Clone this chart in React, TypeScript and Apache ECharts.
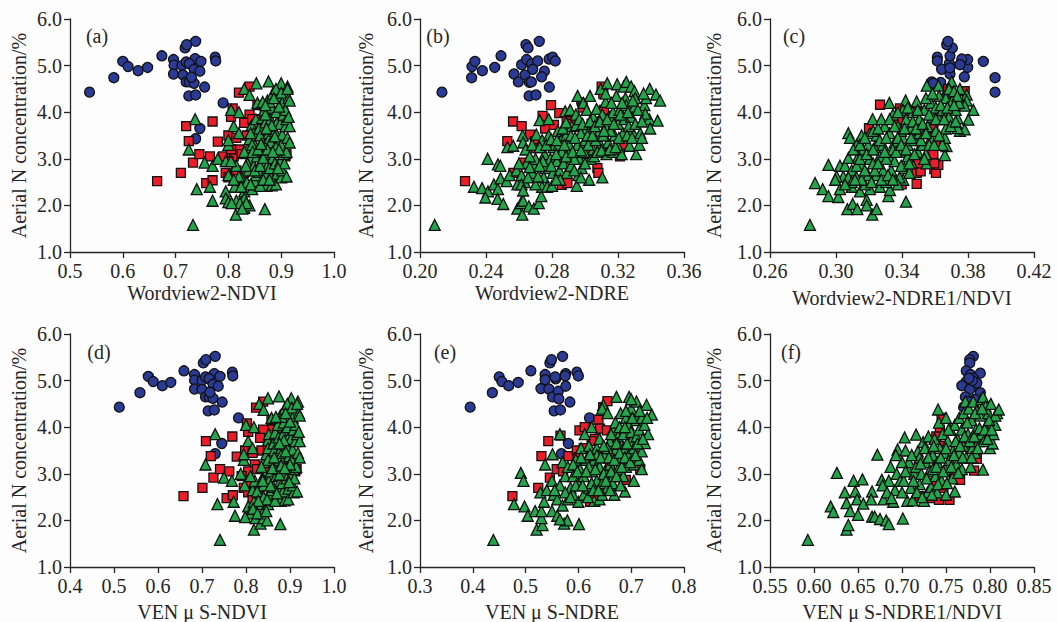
import React, { useEffect, useRef } from "react";
import * as echarts from "echarts";

const yTicks = [1, 2, 3, 4, 5, 6];
const xTicksA = [0.5, 0.6, 0.7, 0.8, 0.9, 1.0];
const xTicksB = [0.2, 0.24, 0.28, 0.32, 0.36];
const xTicksC = [0.26, 0.3, 0.34, 0.38, 0.42];
const xTicksD = [0.4, 0.5, 0.6, 0.7, 0.8, 0.9, 1.0];
const xTicksE = [0.3, 0.4, 0.5, 0.6, 0.7, 0.8];
const xTicksF = [0.55, 0.6, 0.65, 0.7, 0.75, 0.8, 0.85];

const panelTags = ["(a)", "(b)", "(c)", "(d)", "(e)", "(f)"];
const xNames = ["Wordview2-NDVI", "Wordview2-NDRE", "Wordview2-NDRE1/NDVI", "VEN μ S-NDVI", "VEN μ S-NDRE", "VEN μ S-NDRE1/NDVI"];
const yName = "Aerial N concentration/%";

const blueA = [[.537,4.43],[.583,4.74],[.6,5.09],[.61,4.98],[.629,4.89],[.647,4.96],[.674,5.21],[.696,5.13],[.697,5.01],[.696,4.82],[.712,5],[.714,4.8],[.72,5.08],[.718,5.38],[.721,5.45],[.738,5.52],[.737,5.15],[.726,5.04],[.735,4.92],[.748,5.09],[.746,4.88],[.775,5.18],[.776,5.1],[.72,4.65],[.726,4.65],[.735,4.62],[.755,4.54],[.725,4.35],[.738,4.37],[.79,4.2],[.746,3.65],[.738,3.43],[.73,4.75]];
const redA = [[.665,2.52],[.71,2.7],[.733,2.92],[.745,3.1],[.72,3.7],[.725,3.38],[.77,3.8],[.765,3.05],[.758,2.48],[.77,2.54],[.78,3.37],[.8,3.5],[.805,3.9],[.808,4.08],[.82,4.42],[.84,4.55],[.84,3.95],[.83,3.77],[.835,3.5],[.855,4.15],[.87,3.95],[.875,3.8],[.82,3.2],[.81,3.05],[.8,2.95],[.795,2.7],[.8,2.6],[.83,2.7],[.82,2.45],[.91,3.1],[.908,3.05],[.85,3.6],[.815,3.45],[.825,3.1],[.79,3.05],[.845,3.15],[.815,2.75],[.86,3.85],[.845,3.85],[.805,3.2]];
const greenA = [[.733,1.58],[.814,1.8],[.869,1.92],[.74,2.35],[.765,2.4],[.77,2.1],[.755,2.92],[.77,2.85],[.725,3.2],[.737,3.85],[.78,3],[.795,2.3],[.795,2.15],[.8,2.07],[.795,2.95],[.8,3.3],[.8,3.4],[.8,2.65],[.812,2.4],[.805,4.05],[.82,4],[.81,3.7],[.82,3.55],[.815,2.85],[.805,2.95],[.815,2.1],[.825,2.6],[.83,2.3],[.83,2.15],[.83,1.95],[.822,2.05],[.84,2],[.845,2.35],[.85,2.45],[.83,4.5],[.84,4.37],[.853,4.62],[.876,4.66],[.9,4.62],[.912,4.55],[.838,2.75],[.842,3],[.838,3.25],[.84,3.42],[.844,3.72],[.836,2.9],[.85,2.52],[.852,2.65],[.848,2.85],[.854,3.05],[.85,3.3],[.856,3.6],[.852,3.85],[.848,3.55],[.862,2.45],[.858,2.72],[.864,2.95],[.86,3.18],[.866,3.42],[.858,3.65],[.864,3.88],[.86,3.5],[.872,2.42],[.87,2.7],[.874,2.85],[.868,3.1],[.872,3.3],[.876,3.55],[.87,3.78],[.868,4.05],[.874,4.25],[.882,2.43],[.88,2.62],[.878,2.8],[.884,3.02],[.88,3.25],[.878,3.45],[.884,3.65],[.88,3.85],[.882,4.1],[.878,4.22],[.884,4.4],[.89,2.45],[.892,2.68],[.888,2.9],[.89,3.15],[.894,3.38],[.888,3.6],[.892,3.78],[.89,4],[.894,4.3],[.89,4.5],[.9,2.6],[.902,2.75],[.898,2.95],[.904,3.1],[.9,3.3],[.902,3.52],[.898,3.75],[.904,3.95],[.902,4.2],[.9,4.42],[.91,2.62],[.906,2.9],[.91,3.15],[.912,3.45],[.908,3.7],[.91,3.85],[.908,4.05],[.914,4.3],[.912,4.5],[.916,3.35],[.916,3.7],[.914,3.9],[.916,4.25],[.855,4.2],[.865,4.22],[.845,3.3],[.83,3.15],[.833,2.85],[.82,2.62],[.835,2.5],[.842,2.45],[.86,2.42],[.87,3.95],[.88,3.35],[.87,4.15],[.89,3.25],[.824,2.4],[.834,2.05],[.826,1.93],[.806,2.05],[.81,2.55],[.85,2.75],[.846,3.15],[.842,3.55],[.856,3.2],[.86,2.85],[.866,3.02],[.874,3.2],[.866,2.55],[.878,2.55],[.882,3.72],[.888,3.48],[.896,3.2],[.884,3.15],[.894,2.8],[.862,3.32],[.872,3.65],[.896,4.12],[.886,4.3]];

const blueB = [[.2133,4.43],[.2313,4.74],[.2315,4.98],[.2333,5.09],[.2378,4.89],[.2453,4.96],[.2491,5.21],[.257,4.82],[.2596,4.65],[.2616,5.02],[.2636,4.8],[.2646,5.13],[.2642,5.45],[.2655,5.38],[.2723,5.52],[.2677,5.04],[.2713,5.1],[.2683,4.92],[.2663,4.64],[.2675,4.65],[.2754,4.88],[.2737,4.76],[.2782,5.14],[.2804,5.18],[.282,5.1],[.2784,4.54],[.2661,4.35],[.2703,4.37],[.298,4.2]];
const redB = [[.2273,2.52],[.2564,3.8],[.2616,3.7],[.2529,3.38],[.2667,3.52],[.2697,3.38],[.2703,3.23],[.2743,3.92],[.2758,3.65],[.2794,4.15],[.2812,3.73],[.2844,3.98],[.2859,2.44],[.2893,2.48],[.3075,2.8],[.3081,2.7],[.3101,4.55],[.3111,4.4],[.3115,4.05],[.2986,4.1],[.3101,3.8],[.304,3.75],[.3212,3.05],[.3232,3.3],[.2566,2.7],[.2626,2.92],[.2889,3.85],[.2919,3.75],[.2766,3.3],[.2869,3],[.3,3.1]];
const greenB = [[.2089,1.58],[.2327,2.4],[.2376,2.37],[.241,3],[.2412,2.3],[.2396,2.17],[.2448,2.45],[.2472,2.35],[.247,2.14],[.2472,2.88],[.2487,2.85],[.2488,2.58],[.2505,2.03],[.253,3.25],[.2525,2.52],[.2543,2.65],[.2565,3.28],[.2585,2.75],[.259,2.45],[.259,1.93],[.2612,2.05],[.262,1.8],[.2625,2.1],[.2635,2.5],[.2645,2.9],[.2622,3.5],[.2625,3.35],[.264,3.2],[.2615,2.65],[.26,2.9],[.2615,2.45],[.2625,2.32],[.266,1.98],[.269,1.93],[.272,2.05],[.2735,2.2],[.274,2.4],[.27,2.45],[.268,2.7],[.269,2.85],[.27,3],[.268,3.3],[.2705,3.52],[.274,3.4],[.2725,3.83],[.278,3.85],[.278,3.5],[.2755,3.1],[.276,2.8],[.275,2.6],[.277,2.4],[.28,2.42],[.279,3],[.2805,2.7],[.281,3.25],[.2835,3.6],[.283,2.95],[.2845,2.75],[.286,3.15],[.2855,3.4],[.2885,3.5],[.287,2.9],[.289,2.7],[.29,3.1],[.288,4.02],[.291,4.05],[.2915,2.85],[.292,3.7],[.295,2.42],[.296,2.65],[.2965,3],[.2955,3.3],[.2945,3.95],[.2945,3.72],[.2955,4.35],[.298,2.8],[.299,4.2],[.3,3.4],[.301,3.65],[.3025,2.55],[.3035,3],[.301,4.05],[.303,4.35],[.305,3.9],[.305,3.2],[.308,3.55],[.307,4.07],[.3095,4.5],[.3105,2.6],[.3095,3.3],[.313,3.1],[.3125,3.7],[.3125,4.22],[.314,3.35],[.3135,4.62],[.315,3.9],[.317,3.15],[.318,3.5],[.317,4],[.319,4.35],[.321,4.05],[.3195,4.6],[.32,3.75],[.3222,3.1],[.323,3.55],[.3235,4.55],[.325,4.65],[.3245,4.3],[.324,3.85],[.325,4.15],[.327,3.28],[.3285,3.6],[.328,3.9],[.328,4.55],[.33,4.45],[.33,4.12],[.331,3.1],[.3305,4.3],[.329,4.25],[.333,3.3],[.3335,3.55],[.3345,3.45],[.336,4.15],[.337,4.3],[.339,3.85],[.3392,4.5],[.3395,3.65],[.343,4.38],[.344,3.82],[.3455,4.25],[.3365,3.97],[.2665,3.05],[.2725,3.25],[.2745,2.95],[.284,3.3],[.2825,3.1],[.2905,3.3],[.2935,3],[.2995,3.15],[.302,3.3],[.2975,3.55],[.3065,3.4],[.311,3.5],[.3155,3.6],[.3195,3.3],[.3265,3.7],[.3215,3.95],[.3105,3.95],[.2975,2.6],[.285,2.55],[.2655,2.6],[.2665,2.82],[.2715,2.62],[.2725,2.85],[.2765,3.3],[.2795,3.42],[.2795,2.85],[.2825,2.55],[.283,3.4],[.2865,3.65],[.2875,3.3],[.2885,3.05],[.2885,3.78],[.2915,3.5],[.2925,3.15],[.2935,2.75],[.294,3.45],[.2965,3.85],[.2975,3.18],[.2985,3.75],[.3,2.9],[.3015,3.5],[.303,3.8],[.3045,3.5],[.3055,3.05],[.306,3.7],[.3075,3.15],[.309,3.8],[.31,3.18],[.3115,3.6],[.3125,4.4],[.3135,3.85],[.315,3.2],[.316,4.2],[.3175,3.75],[.3185,3.25],[.3205,3.45],[.3225,4.2],[.3255,3.5],[.326,4],[.3285,3.45],[.3305,3.75],[.332,4.05],[.3345,3.8],[.3355,4.4]];

const blueC = [[.3964,4.43],[.3964,4.74],[.3893,5.09],[.3778,4.76],[.3798,4.96],[.3798,5.13],[.3762,5.14],[.3751,5.02],[.3691,4.82],[.3687,5.04],[.3691,5.21],[.3705,5.38],[.3671,5.45],[.3679,5.52],[.3614,5.18],[.3614,5.1],[.364,4.92],[.358,4.65],[.3634,4.64],[.359,4.62],[.367,4.35],[.369,4.95]];
const redC = [[.3267,4.16],[.32,3.66],[.3489,2.46],[.3489,2.7],[.3513,2.73],[.3499,2.9],[.3596,2.78],[.3606,2.7],[.362,2.87],[.3596,2.9],[.3337,2.55],[.3398,2.45],[.359,3.1],[.361,3.3],[.3489,4.05],[.3388,4.08],[.3378,3.85],[.368,4.5],[.378,4.45],[.3469,3.62],[.359,3.65],[.363,3.98]];
const greenC = [[.2842,1.58],[.2873,2.48],[.2919,2.35],[.2954,2.2],[.2954,2.87],[.3014,2.18],[.3024,2.85],[.3024,2.35],[.3069,1.92],[.3101,2.03],[.3129,1.92],[.3186,2.12],[.3186,2],[.322,1.8],[.3246,1.92],[.3424,2.08],[.3317,2.2],[.3075,3.55],[.3085,3.45],[.3832,4.05],[.3802,3.84],[.3792,4.38],[.3792,4.25],[.378,4.14],[.3751,3.6],[.378,3.63],[.3737,3.66],[.3737,3.87],[.3751,4.5],[.3701,4.66],[.355,4.57],[.3621,4.57],[.3489,4.23],[.3422,4.25],[.3323,4.2],[.3222,3.85],[.366,3.08],[.367,3.27],[.366,3.45],[.3549,2.9],[.3458,2.92],[.3408,2.55],[.3327,2.33],[.3266,2.4],[.3206,2.35],[.3145,2.3],[.3095,2.4],[.3044,2.62],[.3004,2.62],[.2995,2.55],[.3055,2.85],[.3075,3.02],[.3095,2.75],[.3125,3.3],[.3135,3.05],[.3125,2.6],[.3155,2.85],[.3155,3.5],[.3165,3.2],[.3175,2.45],[.3195,2.65],[.3205,3],[.3195,3.3],[.3205,3.55],[.3225,2.9],[.3245,2.65],[.3235,3.25],[.3245,3.5],[.3265,3.05],[.3285,3.3],[.3285,2.75],[.3295,3.7],[.3305,2.5],[.3325,3.55],[.3325,3.05],[.3335,2.75],[.3345,3.95],[.3355,2.95],[.3355,3.35],[.3375,3.7],[.3385,2.6],[.3385,3.15],[.3405,4.05],[.3405,3.45],[.3415,2.8],[.3425,3.85],[.3435,3.05],[.3435,3.3],[.3455,3.65],[.3465,4],[.3475,3.4],[.3495,3.15],[.3505,3.85],[.3505,3.55],[.3525,3.3],[.3535,4.05],[.3545,3.1],[.3555,3.7],[.3575,4.2],[.3575,3.45],[.3585,3.9],[.3605,3.6],[.3605,4.1],[.3625,4.35],[.3625,3.85],[.3645,3.3],[.3645,4.05],[.3665,3.65],[.3665,4.3],[.3685,4.5],[.3685,3.9],[.3705,4.25],[.3725,4.05],[.3745,4.2],[.3715,4.45],[.3735,4.35],[.3375,2.45],[.3345,3.2],[.3445,2.7],[.3395,3.6],[.3305,3],[.3265,3.4],[.3155,2.55],[.3075,2.6],[.3105,3.2],[.3095,2.5],[.3055,2.45],[.3115,2.55],[.3125,2.85],[.3145,3.3],[.3145,3],[.3175,2.75],[.3175,3.45],[.3185,3.1],[.3215,2.5],[.3225,3.2],[.3225,3.6],[.3235,2.75],[.3255,2.9],[.3255,3.65],[.3275,2.55],[.3275,3.85],[.3295,3.15],[.3305,3.45],[.3315,2.65],[.3325,3.85],[.3345,2.55],[.3355,3.7],[.3365,3.15],[.3375,3.45],[.3375,4],[.3395,2.85],[.3395,3.3],[.3415,3.65],[.3425,3.2],[.3435,4.1],[.3445,2.9],[.3455,3.45],[.3465,3.8],[.3475,3.1],[.3485,3.65],[.3495,4.05],[.3515,3.4],[.3525,3.75],[.3535,3],[.3545,3.55],[.3545,4.3],[.3565,3.3],[.3565,3.95],[.3585,4.4],[.3595,3.3],[.3605,3.85],[.3625,3.5],[.3635,4.15],[.3655,3.85],[.3675,4.1],[.3695,3.7],[.3715,4.15],[.3725,3.8]];

const blueD = [[.512,4.43],[.559,4.74],[.578,5.09],[.589,4.98],[.61,4.89],[.629,4.96],[.659,5.21],[.683,5.13],[.683,5.01],[.683,4.82],[.7,5],[.7,4.81],[.708,5.08],[.703,5.38],[.709,5.45],[.73,5.52],[.728,5.15],[.716,5.04],[.725,4.92],[.741,5.09],[.737,4.88],[.769,5.18],[.77,5.1],[.708,4.65],[.716,4.65],[.725,4.62],[.746,4.54],[.714,4.35],[.728,4.37],[.783,4.2],[.745,3.65],[.73,3.43],[.718,4.75]];
const redD = [[.658,2.52],[.701,2.7],[.726,2.92],[.741,3.1],[.709,3.7],[.72,3.38],[.769,3.8],[.762,3.05],[.756,2.48],[.77,2.54],[.779,3.37],[.798,3.5],[.805,3.9],[.802,4.08],[.823,4.42],[.839,4.55],[.839,3.95],[.832,3.77],[.835,3.5],[.858,4.15],[.86,3.95],[.875,3.8],[.82,3.2],[.805,3.05],[.79,2.95],[.795,2.7],[.805,2.6],[.83,2.7],[.815,2.45],[.915,3.1],[.912,3.05],[.85,3.6],[.815,3.45],[.825,3.1],[.85,3.15],[.81,2.8]];
const greenD = [[.741,1.58],[.818,1.8],[.878,1.92],[.735,2.35],[.772,2.4],[.775,2.1],[.75,2.92],[.768,2.85],[.708,3.2],[.73,3.85],[.788,3],[.805,2.3],[.808,2.15],[.798,2.07],[.797,2.75],[.795,3.3],[.795,3.42],[.815,2.65],[.818,2.4],[.8,4.05],[.818,4],[.805,3.7],[.815,3.55],[.82,2.85],[.81,2.95],[.822,2.05],[.83,2.6],[.835,2.35],[.837,2.15],[.833,1.93],[.84,2.05],[.848,2],[.85,2.35],[.855,2.45],[.83,4.5],[.84,4.37],[.85,4.62],[.875,4.66],[.903,4.62],[.918,4.55],[.84,2.75],[.842,3],[.84,3.25],[.846,3.42],[.85,3.72],[.838,2.9],[.858,2.52],[.856,2.65],[.852,2.85],[.856,3.05],[.855,3.3],[.858,3.6],[.852,3.85],[.85,3.55],[.866,2.45],[.862,2.72],[.868,2.95],[.864,3.18],[.87,3.42],[.862,3.65],[.866,3.88],[.864,3.5],[.878,2.42],[.874,2.7],[.878,2.85],[.872,3.1],[.876,3.3],[.88,3.55],[.874,3.78],[.872,4.05],[.878,4.25],[.888,2.43],[.884,2.62],[.882,2.8],[.886,3.02],[.884,3.25],[.882,3.45],[.888,3.65],[.884,3.85],[.886,4.1],[.882,4.22],[.888,4.4],[.896,2.45],[.896,2.68],[.892,2.9],[.894,3.15],[.898,3.38],[.892,3.6],[.896,3.78],[.894,4],[.898,4.3],[.894,4.5],[.908,2.6],[.906,2.75],[.902,2.95],[.908,3.1],[.904,3.3],[.906,3.52],[.902,3.75],[.908,3.95],[.906,4.2],[.904,4.42],[.916,2.62],[.91,2.9],[.914,3.15],[.918,3.45],[.912,3.7],[.916,3.85],[.912,4.05],[.92,4.3],[.916,4.5],[.922,3.35],[.922,3.7],[.92,3.9],[.922,4.25],[.858,4.2],[.868,4.22],[.85,3.3],[.835,3.15],[.838,2.85],[.825,2.62],[.84,2.5],[.848,2.45],[.866,2.42],[.828,2.42],[.816,2.25],[.826,2.15],[.846,2.2],[.856,2.75],[.86,3.12],[.864,3.35],[.876,2.98],[.88,3.18],[.87,2.58],[.886,3.72],[.89,3.48],[.9,3.2],[.888,3.12],[.898,2.82],[.876,3.65],[.9,4.12],[.89,4.3]];

const blueE = [[.395,4.43],[.437,4.74],[.45,5.08],[.455,4.98],[.468,4.89],[.486,4.96],[.51,5.21],[.529,4.83],[.537,5.13],[.537,5.02],[.544,4.82],[.546,5.38],[.549,5.45],[.57,5.52],[.557,5.04],[.551,4.65],[.562,4.77],[.563,4.61],[.554,4.35],[.566,4.37],[.576,5.15],[.575,5.1],[.576,4.88],[.584,4.54],[.597,5.18],[.6,5.1],[.621,4.2],[.581,3.65],[.568,3.43],[.556,5.08]];
const redE = [[.475,2.52],[.524,2.7],[.546,2.92],[.559,3.1],[.571,3.05],[.543,3.7],[.53,3.38],[.566,3.82],[.581,3.38],[.597,3.5],[.602,3.93],[.612,4],[.638,4.16],[.641,3.97],[.654,3.93],[.647,4.43],[.655,4.56],[.631,3.75],[.622,2.4],[.631,2.44],[.69,2.87],[.717,3.1],[.66,3.15],[.6,3.35],[.625,3.7],[.68,3],[.61,3.55]];
const greenE = [[.439,1.58],[.521,1.8],[.532,1.9],[.53,2.05],[.573,1.93],[.579,2],[.601,1.92],[.478,2.35],[.498,2.3],[.504,2.1],[.491,3.02],[.496,2.85],[.518,2.2],[.537,3.2],[.551,3.42],[.565,3.85],[.672,4.65],[.696,4.65],[.647,4.48],[.729,4.48],[.739,4.27],[.726,3.66],[.732,3.85],[.688,2.62],[.668,2.55],[.53,2.2],[.535,2.4],[.528,2.6],[.54,2.65],[.55,2.2],[.56,2.1],[.565,2.02],[.553,2.55],[.55,2.85],[.56,2.45],[.565,2.75],[.57,2.32],[.57,3.25],[.575,2.95],[.58,2.45],[.58,3.15],[.585,2.7],[.59,2.95],[.59,2.55],[.595,3.3],[.6,2.4],[.6,2.8],[.603,3.1],[.605,3.55],[.61,2.55],[.61,2.95],[.612,3.85],[.615,3.3],[.62,2.7],[.62,3.6],[.625,3.05],[.625,4],[.63,3.3],[.63,2.42],[.635,2.85],[.635,3.55],[.64,3.15],[.64,2.45],[.64,3.75],[.645,2.8],[.645,4.4],[.65,3.4],[.65,3.05],[.655,4.3],[.655,2.7],[.66,3.7],[.66,3.2],[.665,2.95],[.665,3.95],[.67,3.5],[.67,4.1],[.675,3.1],[.675,3.8],[.68,3.3],[.68,4.3],[.685,3.55],[.685,3.85],[.69,4.2],[.69,3.15],[.695,3.4],[.695,4.05],[.7,3.7],[.7,4.4],[.7,3.9],[.705,3.2],[.705,3.55],[.71,4.15],[.71,4.55],[.71,3.8],[.715,3.3],[.715,3.95],[.72,4.2],[.72,3.1],[.72,3.48],[.725,4.05],[.73,4.2],[.705,2.85],[.685,2.95],[.665,2.8],[.645,2.55],[.625,2.8],[.605,3.35],[.59,3.2],[.575,2.6],[.555,2.65],[.62,3.15],[.655,3.55],[.635,3.4],[.675,3.65],[.69,4.35],[.7,4.6],[.585,2.5],[.595,2.75],[.598,3.05],[.608,2.75],[.615,3.05],[.618,2.5],[.622,3.42],[.628,2.65],[.632,3.1],[.638,2.65],[.642,3.35],[.648,3],[.648,3.6],[.652,2.85],[.658,3.35],[.662,3.05],[.662,3.85],[.668,3.3],[.672,2.95],[.672,3.65],[.678,3.45],[.678,4],[.682,3.15],[.688,3.35],[.688,4],[.692,3.65],[.698,3.25],[.702,4.2],[.708,3.4],[.712,3.65],[.716,4.35],[.722,3.75],[.68,2.75],[.66,2.65]];

const blueF = [[.781,5.52],[.777,5.45],[.777,5.38],[.789,5.16],[.773,5.21],[.778,5.13],[.773,4.98],[.768,4.89],[.781,4.88],[.777,4.81],[.789,4.74],[.772,4.65],[.77,4.43],[.781,5.05],[.785,4.95],[.783,4.6],[.775,4.55],[.78,5],[.776,5.05]];
const redF = [[.72,2.52],[.734,2.48],[.742,2.44],[.754,2.44],[.747,2.7],[.766,2.87],[.759,3],[.782,3.07],[.785,3.32],[.743,3.95],[.745,4.2],[.739,3.8],[.747,3.6],[.781,3.65],[.736,2.8]];
const greenF = [[.593,1.58],[.637,1.8],[.639,1.9],[.619,2.3],[.622,2.18],[.626,3.02],[.635,2.6],[.637,2.37],[.641,2.2],[.65,2.12],[.645,2.85],[.647,2.62],[.649,2.45],[.655,2.88],[.656,2.36],[.666,2.08],[.666,2.62],[.669,2.08],[.675,2.03],[.682,2],[.685,1.92],[.701,2.04],[.672,3.41],[.677,2.87],[.679,2.45],[.687,3.15],[.703,3.78],[.716,3.84],[.741,4.38],[.792,3.09],[.808,4.3],[.69,2.4],[.692,2.65],[.694,3],[.695,3.52],[.698,2.85],[.704,3.5],[.706,2.42],[.707,3.1],[.708,3.25],[.71,2.7],[.712,2.43],[.714,3],[.716,3.15],[.718,3.48],[.72,2.78],[.722,3],[.724,3.68],[.725,2.42],[.727,3.25],[.729,2.6],[.73,3.8],[.731,3.05],[.733,2.72],[.735,3.4],[.737,3.75],[.738,2.95],[.74,2.6],[.74,3.25],[.742,4.1],[.743,3.55],[.745,2.85],[.746,3.85],[.748,3.45],[.749,3.1],[.75,4.2],[.75,2.55],[.752,3.7],[.754,3.3],[.755,3.95],[.757,2.9],[.758,3.5],[.76,2.62],[.76,4.05],[.762,3.2],[.763,3.75],[.765,3.45],[.765,4.2],[.768,3.1],[.768,3.95],[.77,3.6],[.77,4.3],[.772,4.55],[.773,3.35],[.775,3.85],[.776,4.4],[.778,3.15],[.779,4.15],[.78,3.55],[.781,4.55],[.783,3.45],[.784,3.95],[.785,4.35],[.787,3.7],[.789,4.25],[.79,4.6],[.79,3.85],[.792,4.65],[.793,3.7],[.795,4.45],[.796,4.05],[.798,4.3],[.8,3.55],[.8,3.85],[.801,4.5],[.803,3.65],[.803,4.1],[.804,3.85],[.806,4.05],[.806,4.25],[.81,4.38],[.72,3.35],[.7,3.25],[.685,2.85],[.665,2.45],[.735,3.1],[.678,2.75],[.683,2.6],[.688,2.48],[.693,3.4],[.7,2.6],[.702,2.85],[.704,3.05],[.711,3.4],[.713,2.85],[.717,2.6],[.721,3.22],[.723,2.5],[.726,3.55],[.728,2.9],[.73,3.35],[.734,2.55],[.736,3.6],[.739,3.15],[.741,2.78],[.744,3.35],[.747,3.05],[.75,3.55],[.751,2.8],[.753,3.95],[.756,3.15],[.759,3.4],[.761,3.7],[.764,3.02],[.766,3.6],[.769,3.35],[.771,3.8],[.774,4.1],[.777,3.7],[.779,3.35],[.782,3.8],[.783,4.3],[.786,3.55],[.788,3.98],[.791,4.4],[.794,3.95],[.797,3.75],[.799,4.15],[.802,3.95]];

const xMin = [0.5, 0.2, 0.26, 0.4, 0.3, 0.55];
const xMax = [1, 0.36, 0.42, 1, 0.8, 0.85];
const xDigits = [1, 2, 2, 1, 1, 2];
const xTickSets = [xTicksA, xTicksB, xTicksC, xTicksD, xTicksE, xTicksF];
const blues = [blueA, blueB, blueC, blueD, blueE, blueF];
const reds = [redA, redB, redC, redD, redE, redF];
const greens = [greenA, greenB, greenC, greenD, greenE, greenF];

const gridLeft = [70, 420, 770, 70, 420, 770];
const gridTop = [19, 19, 19, 334, 334, 334];
const gridW = 264;
const gridH = 233;
const yNameGap = [51, 54, 56, 51, 54, 56];
const xNameGap = [41, 41, 46, 45, 45, 45];
const tagX = [97, 438, 794, 99, 445, 791];
const tagY = [36, 36, 36, 352, 352, 352];

const FONT = "'Liberation Serif', 'Times New Roman', serif";
const INK = "#262626";

export default function App() {
  const ref = useRef<HTMLDivElement>(null);
  useEffect(() => {
    const chart = echarts.init(ref.current!, undefined, { renderer: "svg" });
    const idx = [0, 1, 2, 3, 4, 5];
    const grid = idx.map((i) => ({ left: gridLeft[i], top: gridTop[i], width: gridW, height: gridH, outerBoundsMode: "none" }));
    const xAxis = idx.map((i) => ({
      type: "value",
      gridIndex: i,
      min: xMin[i],
      max: xMax[i],
      name: xNames[i],
      nameLocation: "middle",
      nameGap: xNameGap[i],
      nameTextStyle: { fontFamily: FONT, fontSize: 20, color: INK, verticalAlign: "middle" },
      splitLine: { show: false },
      axisLine: { show: true, lineStyle: { color: INK, width: 1.3 } },
      axisTick: { show: true, length: 6, customValues: xTickSets[i], lineStyle: { color: INK, width: 1.3 } },
      axisLabel: {
        customValues: xTickSets[i],
        fontFamily: FONT,
        fontSize: 20,
        color: INK,
        margin: 9,
        hideOverlap: false,
        formatter: (v: number) => v.toFixed(xDigits[i]),
      },
    }));
    const yAxis = idx.map((i) => ({
      type: "value",
      gridIndex: i,
      min: 1,
      max: 6,
      name: yName,
      nameLocation: "middle",
      nameGap: yNameGap[i],
      nameTextStyle: { fontFamily: FONT, fontSize: 20, color: INK, verticalAlign: "middle" },
      splitLine: { show: false },
      axisLine: { show: true, lineStyle: { color: INK, width: 1.3 } },
      axisTick: { show: true, length: 6, customValues: yTicks, lineStyle: { color: INK, width: 1.3 } },
      axisLabel: {
        customValues: yTicks,
        fontFamily: FONT,
        fontSize: 20,
        color: INK,
        margin: 8,
        formatter: (v: number) => v.toFixed(1),
      },
    }));
    const series: any[] = [];
    idx.forEach((i) => {
      const common = { type: "scatter", xAxisIndex: i, yAxisIndex: i, clip: false };
      series.push({ ...common, name: "blue", data: blues[i], symbol: "circle", symbolSize: 10, itemStyle: { color: "#2b3a94", borderColor: "#111", borderWidth: 1.3, opacity: 1 } });
      series.push({ ...common, name: "red", data: reds[i], symbol: "rect", symbolSize: 9, itemStyle: { color: "#ec1c28", borderColor: "#111", borderWidth: 1.3, opacity: 1 } });
      series.push({ ...common, name: "green", data: greens[i], symbol: "triangle", symbolSize: 11, itemStyle: { color: "#23a64b", borderColor: "#111", borderWidth: 1.3, opacity: 1 } });
    });
    chart.setOption({
      animation: false,
      backgroundColor: "#fdfdfd",
      grid,
      xAxis,
      yAxis,
      series,
      graphic: idx.map((i) => ({
        type: "text",
        x: tagX[i],
        y: tagY[i],
        style: { text: panelTags[i], font: `20px ${FONT}`, fill: INK, textAlign: "center", textVerticalAlign: "middle" },
      })),
    });
    return () => chart.dispose();
  }, []);
  return <div ref={ref} style={{ position: "fixed", left: 0, top: 0, width: 1058, height: 622 }} />;
}
